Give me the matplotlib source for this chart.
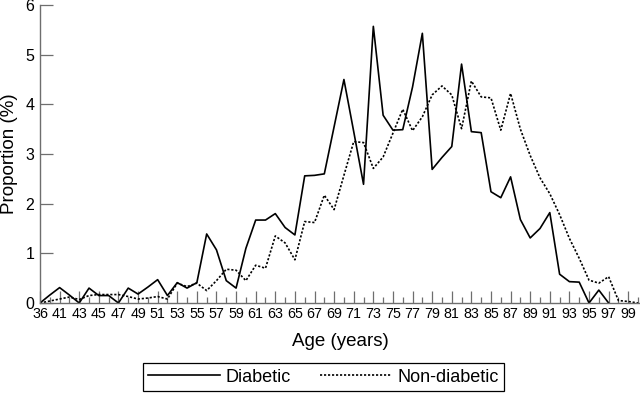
import numpy as np
import matplotlib
matplotlib.use('Agg')
import matplotlib.pyplot as plt

plt.rcParams['font.family'] = ['Liberation Sans', 'DejaVu Sans']

# age categories (one hidden between 36 and 41)
ages = [36] + list(range(40, 101))

diabetic = [0.00, 0.16, 0.31, 0.16, 0.00, 0.30, 0.15, 0.15, 0.00, 0.30,
            0.18, 0.32, 0.47, 0.15, 0.41, 0.30, 0.41, 1.39, 1.07, 0.45,
            0.30, 1.10, 1.67, 1.67, 1.80, 1.52, 1.37, 2.56, 2.57, 2.60,
            3.55, 4.50, 3.45, 2.39, 5.57, 3.78, 3.48, 3.49, 4.35, 5.43,
            2.69, 2.93, 3.15, 4.81, 3.45, 3.43, 2.24, 2.12, 2.54, 1.68,
            1.31, 1.50, 1.82, 0.58, 0.43, 0.42, 0.00, 0.26, 0.00]

non_diabetic = [0.00, 0.04, 0.08, 0.12, 0.07, 0.15, 0.17, 0.17, 0.17, 0.13,
                0.08, 0.10, 0.13, 0.08, 0.40, 0.33, 0.40, 0.25, 0.45, 0.68,
                0.66, 0.45, 0.76, 0.70, 1.35, 1.21, 0.87, 1.64, 1.62, 2.17,
                1.88, 2.57, 3.25, 3.23, 2.71, 2.94, 3.42, 3.90, 3.47, 3.75,
                4.19, 4.37, 4.19, 3.51, 4.47, 4.15, 4.13, 3.48, 4.22, 3.50,
                2.97, 2.52, 2.20, 1.78, 1.30, 0.90, 0.46, 0.40, 0.53, 0.05,
                0.03, 0.00]

gray = '#6e6e6e'

fig = plt.figure(figsize=(6.4, 3.93), dpi=100)
ax = fig.add_axes([40 / 640, 90 / 393, 600 / 640, 298 / 393])

pos = np.arange(len(ages))
ax.plot(pos[:len(diabetic)], diabetic, color='black', lw=1.2, label='Diabetic')
ax.plot(pos[:len(non_diabetic)], non_diabetic, color='black', lw=1.2,
        linestyle=(0, (1.3, 1.1)), label='Non-diabetic')

ax.set_xlim(0, 61.2)
ax.set_ylim(0, 6)
ax.set_yticks(range(0, 7))

ax.set_xticks(pos[0:61:2])
ax.set_xticklabels([str(a) for a in ages[0:61:2]])
ax.set_xticks(pos[1:62:2], minor=True)

for side in ['top', 'right']:
    ax.spines[side].set_visible(False)
for side in ['left', 'bottom']:
    ax.spines[side].set_color(gray)
    ax.spines[side].set_linewidth(1.0)

ax.tick_params(axis='x', which='major', direction='in', length=9, width=0.9,
               color=gray, labelsize=10.3, pad=3)
ax.tick_params(axis='x', which='minor', direction='in', length=4.3, width=0.9,
               color=gray)
ax.tick_params(axis='y', direction='in', length=9, width=0.9, color=gray,
               labelsize=11.5, pad=4)

ax.set_xlabel('Age (years)', fontsize=13.5)
ax.xaxis.set_label_coords(0.5, -0.1)
ax.set_ylabel('Proportion (%)', fontsize=13.5)
ax.yaxis.set_label_coords(-0.037, 0.5)

leg = fig.legend(loc='center', bbox_to_anchor=(323.5 / 640, 16 / 393), ncol=2,
                 frameon=True, fancybox=False, edgecolor='black', framealpha=1,
                 fontsize=13, handlelength=4.0, handletextpad=0.3,
                 columnspacing=1.6, borderpad=0.3)
leg.get_frame().set_linewidth(0.9)

fig.savefig('out.png', dpi=100)
